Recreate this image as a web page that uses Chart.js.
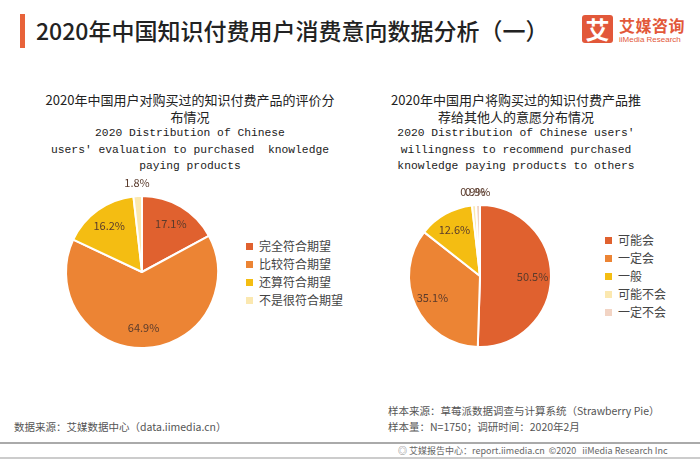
<!DOCTYPE html>
<html>
<head>
<meta charset="utf-8">
<script src="https://cdn.jsdelivr.net/npm/chart.js@4"></script>
<style>
  body { margin: 0; width: 700px; height: 459px; background: #fff; position: relative; overflow: hidden;
         font-family: "Noto Sans CJK SC", "Noto Sans", sans-serif; }
  .abs { position: absolute; }
  .bar { left: 20px; top: 14px; width: 5px; height: 34px; background: #E8633A; }
  .title { left: 36px; top: 13px; font-size: 23px; line-height: 34px; color: #222; font-weight: 500; white-space: nowrap; }
  .logo-box { left: 582px; top: 15px; width: 31px; height: 28px; background: #E2583A; border-radius: 3px;
              color: #fff; font-size: 24px; line-height: 28px; text-align: center; font-weight: 700; }
  .logo-cn { left: 619px; top: 15px; font-size: 16px; line-height: 20px; color: #E2583A; font-weight: 700; letter-spacing: 0.5px; }
  .logo-en { left: 619px; top: 35px; font-size: 8px; line-height: 10px; color: #E2583A; font-family: "Liberation Sans", sans-serif; }
  .sub { text-align: center; color: #222; white-space: nowrap; }
  .sub .cn { font-size: 13px; line-height: 16.5px; }
  .sub .en { font-family: "Liberation Mono", "DejaVu Sans Mono", monospace; font-size: 11.3px; line-height: 16.5px; color: #222; }
  .legend { font-size: 12px; color: #444; }
  .legend div { height: 18px; line-height: 18px; white-space: nowrap; }
  .legend span.sw { display: inline-block; width: 7px; height: 7px; margin-right: 6px; vertical-align: 1px; }
  .foot { font-size: 10.5px; color: #555; white-space: nowrap; }
  .line { left: 0; width: 700px; height: 2px; background: #aaa; }
  canvas { position: absolute; }
</style>
</head>
<body>
<div class="abs bar"></div>
<div class="abs title">2020年中国知识付费用户消费意向数据分析（一）</div>
<div class="abs logo-box">艾</div>
<div class="abs logo-cn">艾媒咨询</div>
<div class="abs logo-en">iiMedia Research</div>

<div class="abs sub" style="left:40px; width:300px; top:92px;">
  <div class="cn">2020年中国用户对购买过的知识付费产品的评价分<br>布情况</div>
  <div class="en">2020 Distribution of Chinese<br>users' evaluation to purchased&nbsp; knowledge<br>paying products</div>
</div>
<div class="abs sub" style="left:366px; width:300px; top:92px;">
  <div class="cn">2020年中国用户将购买过的知识付费产品推<br>荐给其他人的意愿分布情况</div>
  <div class="en">2020 Distribution of Chinese users'<br>willingness to recommend purchased<br>knowledge paying products to others</div>
</div>

<canvas id="leftPie" width="200" height="200" style="left:42px; top:172px; width:200px; height:200px;"></canvas>
<canvas id="rightPie" width="200" height="200" style="left:380px; top:176px; width:200px; height:200px;"></canvas>

<div class="abs legend" id="leftLegend" style="left:246px; top:237px;"></div>
<div class="abs legend" id="rightLegend" style="left:605px; top:231px;"></div>

<div class="abs foot" style="left:14px; top:419px;">数据来源：艾媒数据中心（data.iimedia.cn）</div>
<div class="abs foot" style="left:388px; top:403px;">样本来源：草莓派数据调查与计算系统（Strawberry Pie）</div>
<div class="abs foot" style="left:388px; top:419px;">样本量：N=1750；调研时间：2020年2月</div>
<div class="abs line" style="top:442px;"></div>
<div class="abs foot" style="left:398px; top:444px; font-size:9px; color:#666;">◎ 艾媒报告中心：report.iimedia.cn &nbsp;©2020 &nbsp; iiMedia Research Inc</div>
<div class="abs line" style="top:457px; background:#ccc;"></div>

<script>
// left pie: evaluation of purchased products
const evalLabels = ['完全符合期望', '比较符合期望', '还算符合期望', '不是很符合期望'];
const evalValues = [17.1, 64.9, 16.2, 1.8];
const evalColors = ['#E0612F', '#EC8434', '#F4BD12', '#FBE8B0'];

// right pie: willingness to recommend
const recLabels = ['可能会', '一定会', '一般', '可能不会', '一定不会'];
const recValues = [50.5, 35.1, 12.6, 0.9, 0.9];
const recColors = ['#E0612F', '#EC8434', '#F4BD12', '#FBE8B0', '#F2D4C4'];

// draws the percentage labels, small slices go outside the pie
const sliceLabels = {
    id: 'sliceLabels',
    afterDatasetsDraw(chart) {
        const ctx = chart.ctx;
        const meta = chart.getDatasetMeta(0);
        const data = chart.data.datasets[0].data;
        ctx.save();
        ctx.font = '11px "Noto Sans CJK SC", sans-serif';
        ctx.fillStyle = '#5a3b2c';
        ctx.textAlign = 'center';
        ctx.textBaseline = 'middle';
        meta.data.forEach((arc, i) => {
            const mid = (arc.startAngle + arc.endAngle) / 2;
            const r = data[i] < 3 ? arc.outerRadius + 13 : arc.outerRadius * 0.74;
            const x = arc.x + Math.cos(mid) * r;
            const y = arc.y + Math.sin(mid) * r;
            ctx.fillText(data[i].toFixed(1) + '%', x, y);
        });
        ctx.restore();
    }
};

function makePie(id, labels, values, colors, radius) {
    new Chart(document.getElementById(id), {
        type: 'pie',
        data: {
            labels: labels,
            datasets: [{
                data: values,
                backgroundColor: colors,
                borderColor: '#fff',
                borderWidth: 2
            }]
        },
        options: {
            responsive: false,
            animation: false,
            radius: radius,
            plugins: { legend: { display: false }, tooltip: { enabled: false } }
        },
        plugins: [sliceLabels]
    });
}

function makeLegend(id, labels, colors) {
    const el = document.getElementById(id);
    labels.forEach((label, i) => {
        const row = document.createElement('div');
        row.innerHTML = `<span class="sw" style="background:${colors[i]}"></span>${label}`;
        el.appendChild(row);
    });
}

makePie('leftPie', evalLabels, evalValues, evalColors, 76);
makePie('rightPie', recLabels, recValues, recColors, 71);
makeLegend('leftLegend', evalLabels, evalColors);
makeLegend('rightLegend', recLabels, recColors);
</script>
</body>
</html>
